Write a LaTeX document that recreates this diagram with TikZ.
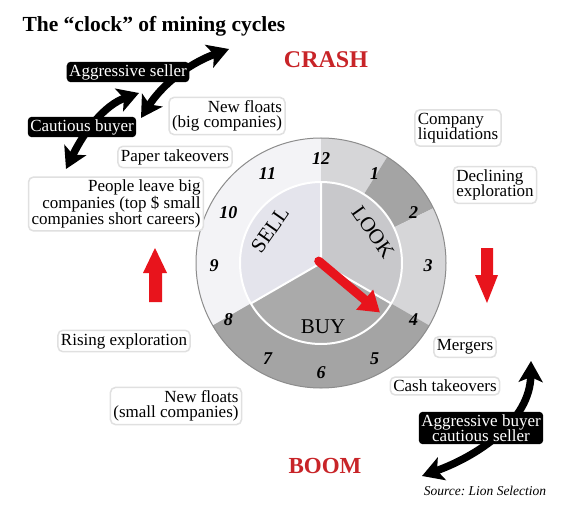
\documentclass[tikz,border=0pt]{standalone}
\usepackage{fontspec}
\setmainfont{Liberation Serif}
\usetikzlibrary{arrows.meta}

\definecolor{crashred}{RGB}{200,36,40}
\definecolor{handred}{RGB}{232,20,28}
\definecolor{sellgrey}{RGB}{228,228,236}
\definecolor{lookgrey}{RGB}{200,200,203}
\definecolor{buygrey}{RGB}{170,170,170}
\definecolor{ringwhite}{RGB}{243,243,246}
\definecolor{ringlight}{RGB}{214,214,216}
\definecolor{ringdark}{RGB}{164,164,164}

\tikzset{
	note/.style={draw=black!12, line width=1.5pt, fill=white, rounded corners=5pt, inner sep=3pt, font=\fontsize{17}{15.5}\selectfont, align=right},
	darknote/.style={fill=black, text=white, rounded corners=4pt, inner sep=2.5pt, font=\fontsize{17}{15.5}\selectfont, align=center},
	hour/.style={font=\fontsize{18}{18}\selectfont\bfseries\itshape},
	phase/.style={font=\fontsize{21}{21}\selectfont},
	swing/.style={line width=7.5pt, {Stealth[length=21pt,width=24pt,inset=5pt]}-{Stealth[length=21pt,width=24pt,inset=5pt]}},
}

\begin{document}
\begin{tikzpicture}[x=1pt,y=-1pt]
	\def\rout{125};
	\def\rin{81};
	\def\rnum{107};
	\fill[white] (0,0) rectangle (565,516);
	\useasboundingbox (0,0) rectangle (565,516);

	% title and the two ends of the cycle
	\node[anchor=west, font=\fontsize{21.5}{21.5}\selectfont\bfseries] (title) at (19,26) {The “clock” of mining cycles};
	\node[text=crashred, font=\fontsize{24}{24}\selectfont\bfseries] (crash) at (326,60) {CRASH};
	\node[text=crashred, font=\fontsize{23}{23}\selectfont\bfseries] (boom) at (325,466) {BOOM};

	% black swing arrows
	\draw[swing] (66,169) .. controls (85,130) and (105,105) .. (139,93);
	\draw[swing] (141,118) .. controls (160,88) and (185,65) .. (229,49);
	\draw[swing] (422,476) .. controls (480,455) and (530,420) .. (531,361);

	% red arrows
	\fill[handred] (149,302) -- (149,273) -- (143,273) -- (155,248) -- (167,273) -- (162,273) -- (162,302) -- cycle;
	\fill[handred] (481,248) -- (493,248) -- (493,275) -- (498,275) -- (487,303) -- (475,275) -- (481,275) -- cycle;

	% the clock
	\begin{scope}[shift={(321,263)}, y=1pt]
		\fill[ringwhite] (0,0) circle (\rout);
		\fill[ringlight] (0,0) -- (90:\rout) arc[start angle=90, end angle=58, radius=\rout] -- cycle;
		\fill[ringdark] (0,0) -- (58:\rout) arc[start angle=58, end angle=26, radius=\rout] -- cycle;
		\fill[ringlight] (0,0) -- (26:\rout) arc[start angle=26, end angle=-30, radius=\rout] -- cycle;
		\fill[ringdark] (0,0) -- (-30:\rout) arc[start angle=-30, end angle=-150, radius=\rout] -- cycle;
		\draw[black!45, line width=1pt] (0,0) circle (\rout);

		\fill[lookgrey] (0,0) -- (90:\rin) arc[start angle=90, end angle=-30, radius=\rin] -- cycle;
		\fill[buygrey] (0,0) -- (-30:\rin) arc[start angle=-30, end angle=-150, radius=\rin] -- cycle;
		\fill[sellgrey] (0,0) -- (210:\rin) arc[start angle=210, end angle=90, radius=\rin] -- cycle;
		\draw[white, line width=2pt] (0,0) circle (\rin);
		\draw[white, line width=2pt] (0,0) -- (90:\rin) (0,0) -- (-30:\rin) (0,0) -- (210:\rin);

		\foreach \h in {1,...,12}
			\node[hour, yshift=-3pt] (h\h) at ({90-30*\h}:\rnum) {\h};

		\node[phase, rotate=55, inner sep=0pt] (sell) at (-51,33) {SELL};
		\node[phase, rotate=-55, inner sep=0pt] (look) at (52,31) {LOOK};
		\node[phase] (buy) at (2,-64) {BUY};

		\draw[handred, line width=9pt, line cap=round, -{Triangle[length=20pt,width=25pt]}] (140:3) -- (-40:77);
	\end{scope}

	% notes round the clock
	\node[note] (nfbig) at (227,116) {New floats\\(big companies)};
	\node[note] (paper) at (175,157) {Paper takeovers};
	\node[note] (people) at (116,204) {People leave big\\companies (top \$ small\\companies short careers)};
	\node[note, align=left] (liquid) at (458,128) {Company\\liquidations};
	\node[note, align=left] (decline) at (495,185) {Declining\\exploration};
	\node[note] (rising) at (124,341) {Rising exploration};
	\node[note] (nfsmall) at (176,406) {New floats\\(small companies)};
	\node[note] (mergers) at (465,347) {Mergers};
	\node[note] (cash) at (445,386) {Cash takeovers};

	\node[darknote] (aseller) at (128,72) {Aggressive seller};
	\node[darknote] (cbuyer) at (82,127) {Cautious buyer};
	\node[darknote] (abuyer) at (481,428) {Aggressive buyer\\cautious seller};

	\node[font=\fontsize{13.5}{13.5}\selectfont\itshape] (source) at (485,491) {Source:\ Lion Selection};
\end{tikzpicture}
\end{document}
